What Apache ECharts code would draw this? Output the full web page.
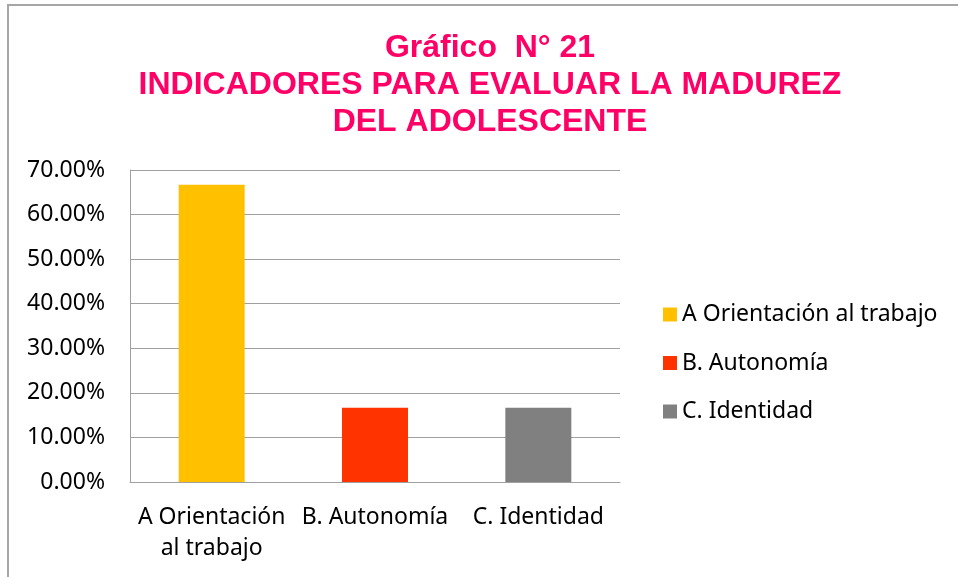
<!DOCTYPE html>
<html>
<head>
<meta charset="utf-8">
<script src="https://cdn.jsdelivr.net/npm/echarts@6/dist/echarts.min.js"></script>
<style>
html,body{margin:0;padding:0;background:#fff;}
#c{width:958px;height:577px;}
</style>
</head>
<body>
<div id="c"></div>
<script>
const titleText = 'Gráfico  N° 21\nINDICADORES PARA EVALUAR LA MADUREZ\nDEL ADOLESCENTE';
const categories = ['A Orientación al trabajo', 'B. Autonomía', 'C. Identidad'];
const axisLabels = ['A Orientación\nal trabajo', 'B. Autonomía', 'C. Identidad'];
const values = [66.67, 16.67, 16.67];
const colors = ['#FFC000', '#FF3300', '#808080'];
const yMin = 0, yMax = 70, yStep = 10;

const chart = echarts.init(document.getElementById('c'), null, {renderer: 'canvas'});
const series = categories.map((name, i) => ({
  name: name,
  type: 'bar',
  stack: 'all',
  barWidth: 66,
  itemStyle: {color: colors[i]},
  data: categories.map((c, j) => j === i ? values[i] : null)
}));
chart.setOption({
  animation: false,
  backgroundColor: '#fff',
  title: {
    text: titleText,
    left: 485,
    top: 25,
    textAlign: 'center',
    textStyle: {
      fontFamily: 'Liberation Sans, Arial, sans-serif',
      fontWeight: 'bold',
      fontSize: 32,
      lineHeight: 37,
      color: '#FF0066'
    }
  },
  graphic: [{
    type: 'rect',
    shape: {x: 8, y: 5, width: 980, height: 620},
    style: {fill: 'none', stroke: '#A6A6A6', lineWidth: 2},
    silent: true
  }],
  legend: {
    orient: 'vertical',
    left: 658,
    top: 298,
    itemWidth: 14,
    itemHeight: 14,
    itemGap: 25.5,
    icon: 'rect',
    textStyle: {fontFamily: 'Noto Sans', fontSize: 23, color: '#000'},
    data: categories
  },
  grid: {left: 130, top: 170, right: 338, bottom: 95, containLabel: false},
  xAxis: {
    type: 'category',
    data: axisLabels,
    axisLine: {lineStyle: {color: '#A0A0A0', width: 1}},
    axisTick: {show: false},
    axisLabel: {interval: 0, margin: 20, fontFamily: 'Noto Sans', fontSize: 23, lineHeight: 31, color: '#000'}
  },
  yAxis: {
    type: 'value',
    min: yMin, max: yMax, interval: yStep,
    axisLine: {show: true, lineStyle: {color: '#A0A0A0', width: 1}},
    axisTick: {show: false},
    splitLine: {lineStyle: {color: '#A0A0A0', width: 1}},
    axisLabel: {margin: 25, fontFamily: 'Noto Sans', fontSize: 23, color: '#000',
      formatter: v => v.toFixed(2) + '%'}
  },
  series: series
});
</script>
</body>
</html>
